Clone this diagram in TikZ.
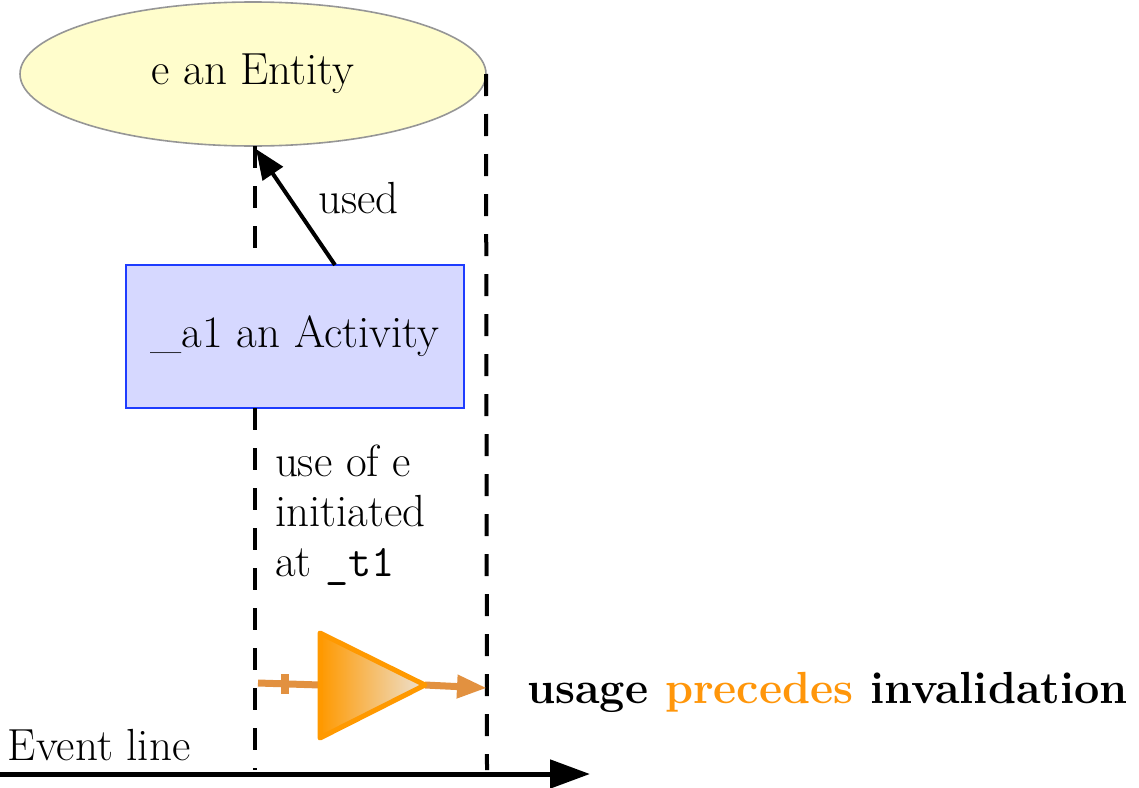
\documentclass[tikz,border=0pt]{standalone}
\usetikzlibrary{arrows.meta,shapes.geometric}
\definecolor{entfill}{RGB}{255,253,204}
\definecolor{entdraw}{RGB}{150,150,150}
\definecolor{actfill}{RGB}{214,216,255}
\definecolor{actdraw}{RGB}{30,60,255}
\definecolor{triorange}{RGB}{255,153,0}
\definecolor{tripale}{RGB}{236,226,212}
\definecolor{linkorange}{RGB}{226,145,64}
\definecolor{precol}{RGB}{255,150,10}
\begin{document}
\begin{tikzpicture}[x=0.5pt,y=-0.5pt,
  every node/.style={inner sep=0pt, outer sep=0pt, font=\fontsize{22.5}{27}\selectfont},
  lifeline/.style={line width=2pt, dash pattern=on 11pt off 9pt},
  linkline/.style={line width=3.5pt, draw=linkorange},
  evline/.style={line width=2.5pt, -{Triangle[length=20pt,width=14pt]}}]
\useasboundingbox (0,0) rectangle (1139,787);

% nodes
\node[ellipse, draw=entdraw, fill=entfill, line width=0.8pt,
      minimum width=233pt, minimum height=72pt] (ent) at (253,74) {e an Entity};
\node[rectangle, draw=actdraw, fill=actfill, line width=0.8pt,
      minimum width=169pt, minimum height=71.5pt] (act) at (295,336.5) {\_a1 an Activity};

% lifelines
\coordinate (lbot) at (255,770);
\coordinate (rbot) at (487,770);
\draw[lifeline] (ent.south -| lbot) -- (act.north -| lbot);
\draw[lifeline] (act.south -| lbot) -- (lbot);
\draw[lifeline] (ent.east) -- (rbot);

% used arrow
\coordinate (usedstart) at (335,265);
\coordinate (usedend) at (256,149);
\draw[line width=2pt, -{Triangle[length=15pt,width=12pt]}] (usedstart) -- (usedend);
\node[anchor=base west] (usedlabel) at (318,213) {used};

% description text
\node[anchor=base west] (d1) at (275,476) {use of e};
\node[anchor=base west] (d2) at (275,526) {initiated};
\node[anchor=base west] (d3) at (275,576) {at \texttt{\_t1}};

% precedence triangle
\coordinate (ta) at (320,633);
\coordinate (tb) at (320,738);
\coordinate (tc) at (425,685);
\coordinate (lin) at (258,683);
\coordinate (rin) at (487,688);
\draw[linkline] (lin) -- (320,685);
\draw[line width=4pt, linkorange] (285,674) -- (285,694);
\draw[linkline, -{Triangle[length=15pt,width=11pt]}] (tc) -- (rin);
\shade[left color=triorange, right color=tripale] (ta) -- (tb) -- (tc) -- cycle;
\draw[triorange, line width=2.5pt, line join=round] (ta) -- (tb) -- (tc) -- cycle;

\node[anchor=base west, font=\fontsize{22.5}{27}\selectfont\bfseries] (prec) at (527,703)
  {usage \textcolor{precol}{precedes} invalidation};

% event line
\coordinate (ev0) at (0,774);
\coordinate (ev1) at (590,774);
\draw[evline] (ev0) -- (ev1);
\node[anchor=base west] (evlabel) at (8,760) {Event line};
\end{tikzpicture}
\end{document}
